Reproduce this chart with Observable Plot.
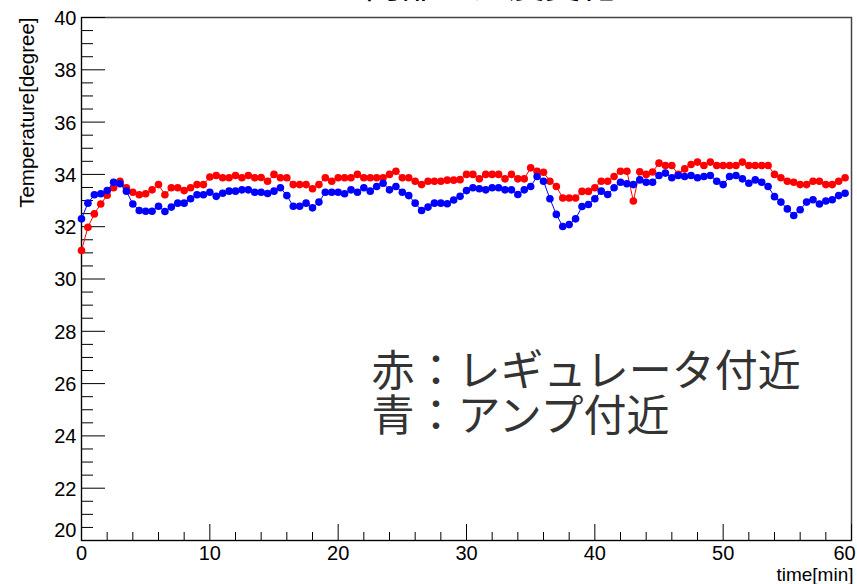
<!DOCTYPE html>
<html>
<head>
<meta charset="utf-8">
<script src="https://cdn.jsdelivr.net/npm/d3@7"></script>
<script src="https://cdn.jsdelivr.net/npm/@observablehq/plot@0.6"></script>
<style>
  html, body { margin: 0; padding: 0; background: #fff; }
  #chart { width: 857px; height: 584px; overflow: hidden; }
</style>
</head>
<body>
<div id="chart"></div>
<script>
// Sampling times [min], one reading every 30 s
const timeMin = [
  0, 0.5, 1, 1.5, 2, 2.5, 3, 3.5, 4, 4.5, 5, 5.5, 6, 6.5, 7, 7.5, 8, 8.5, 9, 9.5,
  10, 10.5, 11, 11.5, 12, 12.5, 13, 13.5, 14, 14.5, 15, 15.5, 16, 16.5, 17, 17.5, 18, 18.5, 19, 19.5,
  20, 20.5, 21, 21.5, 22, 22.5, 23, 23.5, 24, 24.5, 25, 25.5, 26, 26.5, 27, 27.5, 28, 28.5, 29, 29.5,
  30, 30.5, 31, 31.5, 32, 32.5, 33, 33.5, 34, 34.5, 35, 35.5, 36, 36.5, 37, 37.5, 38, 38.5, 39, 39.5,
  40, 40.5, 41, 41.5, 42, 42.5, 43, 43.5, 44, 44.5, 45, 45.5, 46, 46.5, 47, 47.5, 48, 48.5, 49, 49.5,
  50, 50.5, 51, 51.5, 52, 52.5, 53, 53.5, 54, 54.5, 55, 55.5, 56, 56.5, 57, 57.5, 58, 58.5, 59, 59.5
];

// Temperature near the regulator [degree] (red)
const tempRegulator = [
  31.09, 31.98, 32.49, 32.87, 33.20, 33.49, 33.74, 33.49, 33.32, 33.22, 33.26, 33.41, 33.61, 33.22, 33.49, 33.49, 33.38, 33.49, 33.61, 33.61,
  33.90, 33.96, 33.87, 33.87, 33.96, 33.87, 33.96, 33.87, 33.88, 33.74, 34.00, 33.87, 33.87, 33.61, 33.61, 33.61, 33.45, 33.61, 33.87, 33.74,
  33.87, 33.87, 33.87, 34.00, 33.87, 33.87, 33.87, 33.87, 34.00, 34.12, 33.87, 33.87, 33.74, 33.61, 33.74, 33.74, 33.74, 33.78, 33.78, 33.80,
  34.00, 34.00, 33.83, 34.00, 34.00, 34.00, 33.83, 34.00, 33.83, 33.83, 34.25, 34.12, 34.08, 33.74, 33.54, 33.10, 33.10, 33.10, 33.35, 33.35,
  33.49, 33.74, 33.74, 33.92, 34.12, 34.12, 32.98, 34.10, 34.00, 34.09, 34.43, 34.34, 34.34, 34.00, 34.21, 34.38, 34.47, 34.34, 34.47, 34.34,
  34.34, 34.34, 34.34, 34.47, 34.34, 34.34, 34.34, 34.34, 34.00, 33.87, 33.74, 33.70, 33.61, 33.61, 33.74, 33.74, 33.61, 33.61, 33.74, 33.87
];

// Temperature near the amplifier [degree] (blue)
const tempAmp = [
  32.30, 32.90, 33.22, 33.26, 33.38, 33.70, 33.64, 33.36, 32.87, 32.62, 32.59, 32.59, 32.78, 32.58, 32.75, 32.90, 32.90, 33.07, 33.22, 33.22,
  33.32, 33.16, 33.28, 33.36, 33.36, 33.41, 33.41, 33.32, 33.32, 33.27, 33.36, 33.49, 33.19, 32.78, 32.78, 32.90, 32.72, 32.94, 33.32, 33.32,
  33.32, 33.26, 33.41, 33.32, 33.49, 33.36, 33.54, 33.66, 33.41, 33.54, 33.32, 33.19, 32.90, 32.62, 32.75, 32.90, 32.90, 32.88, 33.02, 33.16,
  33.38, 33.49, 33.45, 33.41, 33.49, 33.49, 33.41, 33.41, 33.23, 33.41, 33.54, 33.92, 33.74, 33.07, 32.47, 32.01, 32.08, 32.30, 32.77, 32.85,
  33.07, 33.36, 33.23, 33.49, 33.70, 33.64, 33.61, 33.79, 33.70, 33.70, 33.96, 34.05, 33.87, 33.96, 33.92, 33.96, 33.87, 33.92, 33.96, 33.74,
  33.61, 33.92, 33.96, 33.83, 33.66, 33.79, 33.70, 33.54, 33.15, 32.94, 32.68, 32.43, 32.65, 32.94, 33.03, 32.87, 32.98, 33.03, 33.19, 33.28
];

// Axis ticks
const xMajorTicks = [0, 10, 20, 30, 40, 50, 60];
const xMinorTicks = [2, 4, 6, 8, 12, 14, 16, 18, 22, 24, 26, 28, 32, 34, 36, 38, 42, 44, 46, 48, 52, 54, 56, 58];
const yMajorTicks = [20, 22, 24, 26, 28, 30, 32, 34, 36, 38, 40];
const yMinorTicks = [
  20.5, 21, 21.5, 22.5, 23, 23.5, 24.5, 25, 25.5, 26.5, 27, 27.5, 28.5, 29, 29.5,
  30.5, 31, 31.5, 32.5, 33, 33.5, 34.5, 35, 35.5, 36.5, 37, 37.5, 38.5, 39, 39.5
];

// Texts
const titleText = "内部の温度変化";
const xTitle = "time[min]";
const yTitle = "Temperature[degree]";
const legendLines = ["赤：レギュレータ付近", "青：アンプ付近"];

const W = 857, H = 584;
const mL = 81, mR = 6, mT = 17, mB = 44;
const frameW = W - mL - mR, frameH = H - mT - mB;

const rows = timeMin.map((t, i) => ({t, regulator: tempRegulator[i], amp: tempAmp[i]}));

const latin = "'Liberation Sans', Arial, Helvetica, sans-serif";
const cjk = "'Noto Sans CJK JP', 'Noto Sans CJK SC', sans-serif";

const chart = Plot.plot({
  width: W,
  height: H,
  marginLeft: mL,
  marginRight: mR,
  marginTop: mT,
  marginBottom: mB,
  style: {fontFamily: latin, background: "#fff", color: "#000"},
  x: {domain: [0, 60]},
  y: {domain: [20, 40]},
  marks: [
    // pad frame
    Plot.frame({stroke: "#444", strokeWidth: 1.5}),
    // inward tick marks
    Plot.ruleY(yMinorTicks, {insetRight: frameW - 12, stroke: "#000"}),
    Plot.ruleY(yMajorTicks, {insetRight: frameW - 24, stroke: "#000"}),
    Plot.ruleX(xMinorTicks, {insetTop: frameH - 8, stroke: "#000"}),
    Plot.ruleX(xMajorTicks, {insetTop: frameH - 16, stroke: "#000"}),
    // axis lines
    Plot.ruleX([0], {stroke: "#000"}),
    Plot.ruleY([20], {stroke: "#000"}),
    // tick labels (the end labels are nudged inside the pad)
    Plot.axisY(yMajorTicks.filter((v) => v !== 20), {tickSize: 0, tickPadding: 5, fontSize: 20, dy: 1, label: null}),
    Plot.axisY([20], {tickSize: 0, tickPadding: 5, fontSize: 20, dy: -10, label: null}),
    Plot.axisX(xMajorTicks.filter((v) => v !== 60), {tickSize: 0, tickPadding: 5, fontSize: 20, label: null}),
    Plot.axisX([60], {tickSize: 0, tickPadding: 5, fontSize: 20, dx: -7, label: null}),
    // axis titles
    Plot.text([xTitle], {frameAnchor: "bottom-right", textAnchor: "end", lineAnchor: "middle", dx: 2, dy: 34, fontSize: 19, fill: "#000"}),
    Plot.text([yTitle], {frameAnchor: "top-left", textAnchor: "end", lineAnchor: "middle", rotate: -90, dx: -54, dy: 0, fontSize: 20.5, fill: "#000"}),
    // series
    Plot.line(rows, {x: "t", y: "regulator", stroke: "#ff0000", strokeWidth: 1}),
    Plot.dot(rows, {x: "t", y: "regulator", r: 3.8, fill: "#ff0000"}),
    Plot.line(rows, {x: "t", y: "amp", stroke: "#0000ff", strokeWidth: 1}),
    Plot.dot(rows, {x: "t", y: "amp", r: 3.8, fill: "#0000ff"}),
    // two-line legend text inside the frame (baseline of the last line at the anchor)
    Plot.text([legendLines.join("\n")], {
      frameAnchor: "top-left", textAnchor: "start", lineAnchor: "bottom", lineHeight: 45 / 43,
      dx: 290, dy: 413, fontSize: 43, fontFamily: cjk, fill: "#333"
    }),
    // title, mostly above the page edge
    Plot.text([titleText], {frameAnchor: "top", lineAnchor: "bottom", dx: 24, dy: -20, fontSize: 36, fontFamily: cjk, fill: "#000"})
  ]
});

document.getElementById("chart").appendChild(chart);
</script>
</body>
</html>
